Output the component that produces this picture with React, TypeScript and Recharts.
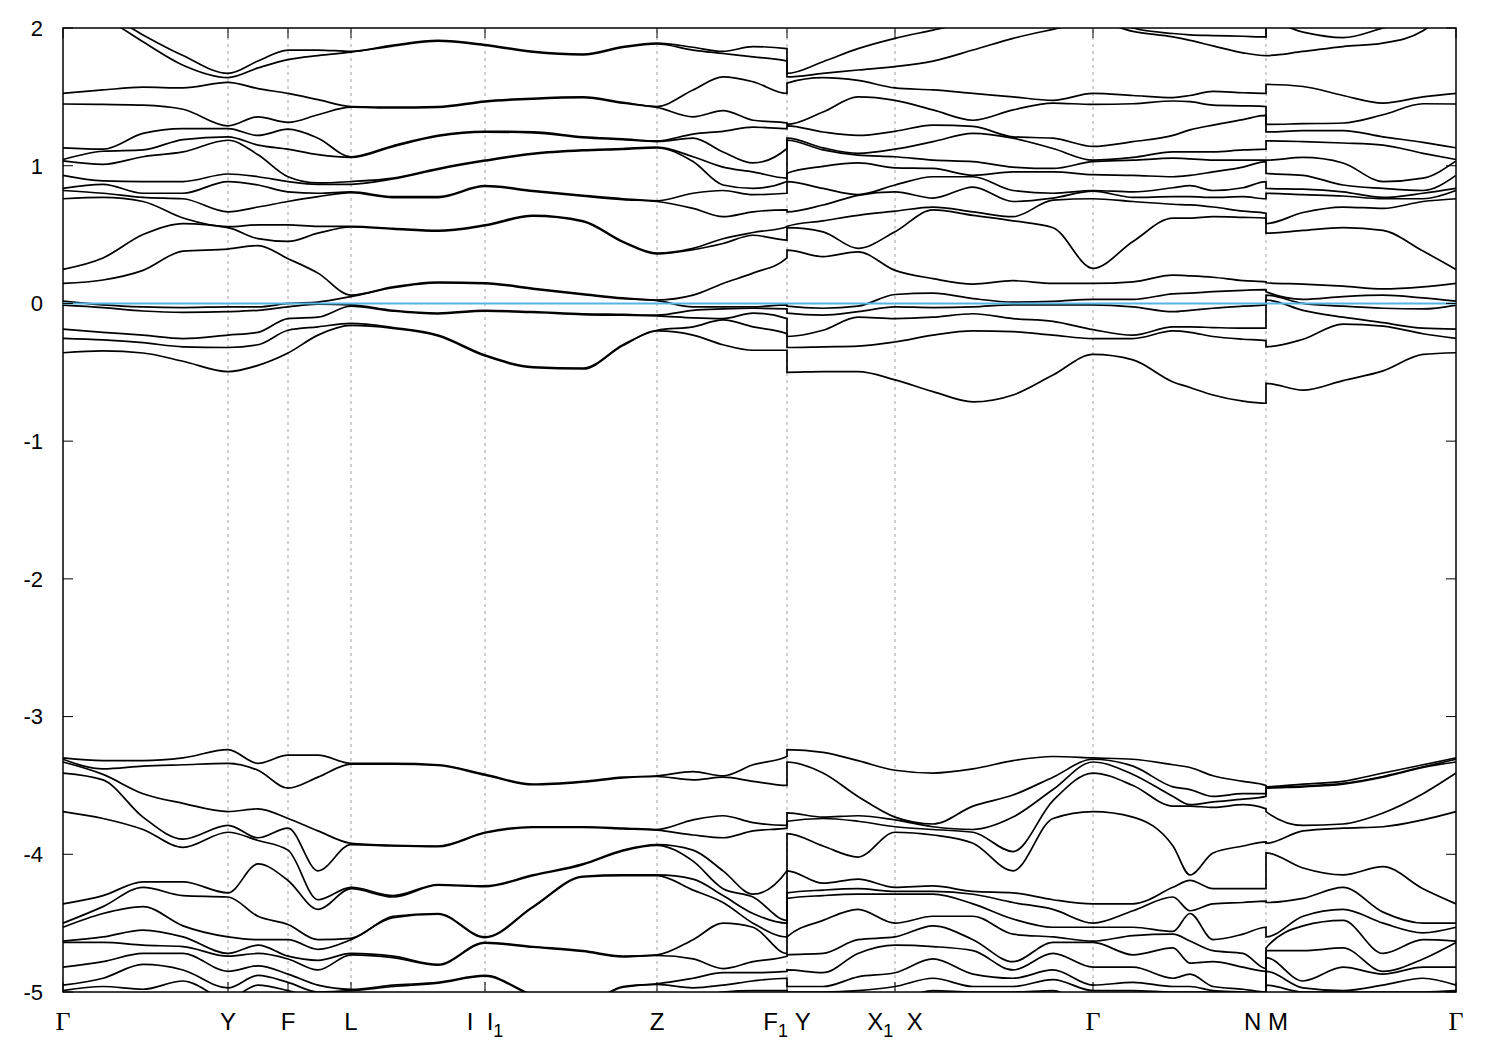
import React from 'react';
import { LineChart, Line, XAxis, YAxis, ReferenceLine, ReferenceArea } from 'recharts';

// k-path distance of every sample point, per path segment
const kGammaF1 = [0, 0.4, 0.8, 1.2, 1.65, 1.95, 2.25, 2.55, 2.88, 3.3, 3.75, 4.22, 4.7, 5.2, 5.6, 5.94, 6.3, 6.6, 6.9, 7.24];
const kYN = [7.24, 7.6, 7.95, 8.32, 8.7, 9.1, 9.5, 9.9, 10.3, 10.7, 11.1, 11.27, 11.5, 11.8, 12.03];
const kMGamma = [12.03, 12.4, 12.8, 13.2, 13.6, 13.93];

// high-symmetry points and their labels ("_" = subscript)
const symK = [0, 1.65, 2.25, 2.88, 4.22, 5.94, 7.24, 8.32, 10.3, 12.03, 13.93];
const symLabels = ['Γ', 'Y', 'F', 'L', 'I  I_1', 'Z', 'F_1 Y', 'X_1  X', 'Γ', 'N M', 'Γ'];
const energyTicks = [-5, -4, -3, -2, -1, 0, 1, 2];

// bands near the Fermi level (eV), one row per k-point
const upperGammaF1 = [
  [2.25, 2.2, 1.525, 1.448, 1.13, 1.045, 1.035, 0.93, 0.835, 0.82, 0.76, 0.247, 0.145, 0.017, -0.012, -0.186, -0.254, -0.358],
  [2.12, 2.08, 1.55, 1.445, 1.12, 1.105, 1.01, 0.89, 0.865, 0.8, 0.77, 0.33, 0.17, -0.01, -0.03, -0.21, -0.265, -0.345],
  [1.95, 1.9, 1.57, 1.44, 1.235, 1.115, 1.065, 0.885, 0.8, 0.77, 0.74, 0.5, 0.24, -0.025, -0.055, -0.23, -0.285, -0.36],
  [1.8, 1.73, 1.565, 1.41, 1.27, 1.19, 1.1, 0.885, 0.8, 0.76, 0.62, 0.58, 0.38, -0.03, -0.065, -0.255, -0.315, -0.42],
  [1.67, 1.64, 1.605, 1.29, 1.27, 1.21, 1.185, 0.94, 0.885, 0.665, 0.557, 0.55, 0.395, -0.025, -0.06, -0.23, -0.32, -0.495],
  [1.76, 1.71, 1.56, 1.355, 1.22, 1.15, 1.08, 0.92, 0.86, 0.7, 0.57, 0.47, 0.42, -0.025, -0.05, -0.21, -0.3, -0.45],
  [1.84, 1.77, 1.525, 1.315, 1.265, 1.12, 0.92, 0.885, 0.81, 0.74, 0.57, 0.45, 0.325, 0.0, -0.025, -0.11, -0.195, -0.36],
  [1.84, 1.8, 1.48, 1.37, 1.2, 1.08, 0.875, 0.865, 0.8, 0.775, 0.56, 0.51, 0.22, 0.01, -0.005, -0.1, -0.17, -0.23],
  [1.83, 1.825, 1.43, 1.425, 1.065, 1.06, 0.885, 0.865, 0.81, 0.805, 0.56, 0.555, 0.06, 0.05, -0.01, -0.02, -0.145, -0.16],
  [1.875, 1.869, 1.425, 1.419, 1.145, 1.139, 0.91, 0.904, 0.775, 0.769, 0.545, 0.539, 0.12, 0.114, -0.05, -0.056, -0.175, -0.181],
  [1.91, 1.904, 1.43, 1.424, 1.22, 1.214, 0.98, 0.974, 0.775, 0.769, 0.53, 0.524, 0.155, 0.149, -0.07, -0.076, -0.23, -0.236],
  [1.88, 1.874, 1.47, 1.464, 1.25, 1.244, 1.04, 1.034, 0.855, 0.849, 0.57, 0.564, 0.15, 0.144, -0.05, -0.056, -0.375, -0.381],
  [1.83, 1.824, 1.49, 1.484, 1.245, 1.239, 1.09, 1.084, 0.82, 0.814, 0.64, 0.634, 0.11, 0.104, -0.06, -0.066, -0.46, -0.466],
  [1.81, 1.804, 1.5, 1.494, 1.21, 1.204, 1.115, 1.109, 0.785, 0.779, 0.6, 0.594, 0.07, 0.064, -0.075, -0.081, -0.47, -0.476],
  [1.865, 1.859, 1.46, 1.454, 1.195, 1.189, 1.125, 1.119, 0.76, 0.754, 0.45, 0.444, 0.04, 0.034, -0.08, -0.086, -0.3, -0.306],
  [1.89, 1.884, 1.43, 1.424, 1.18, 1.175, 1.135, 1.13, 0.745, 0.74, 0.365, 0.36, 0.025, 0.02, -0.085, -0.09, -0.195, -0.2],
  [1.86, 1.84, 1.55, 1.355, 1.23, 1.2, 1.065, 1.03, 0.8, 0.69, 0.4, 0.39, 0.06, -0.025, -0.05, -0.105, -0.17, -0.23],
  [1.83, 1.815, 1.645, 1.4, 1.25, 1.1, 0.99, 0.86, 0.82, 0.63, 0.47, 0.435, 0.145, -0.025, -0.04, -0.11, -0.12, -0.3],
  [1.865, 1.79, 1.61, 1.33, 1.28, 1.02, 0.955, 0.835, 0.79, 0.665, 0.515, 0.495, 0.22, -0.025, -0.035, -0.07, -0.17, -0.34],
  [1.85, 1.76, 1.525, 1.31, 1.27, 1.125, 0.91, 0.885, 0.8, 0.68, 0.557, 0.46, 0.33, -0.01, -0.04, -0.11, -0.22, -0.34],
];
const upperYN = [
  [1.67, 1.645, 1.6, 1.3, 1.29, 1.2, 1.185, 0.945, 0.885, 0.665, 0.56, 0.55, 0.387, -0.02, -0.07, -0.24, -0.32, -0.5],
  [1.755, 1.67, 1.64, 1.39, 1.245, 1.13, 1.115, 0.995, 0.835, 0.715, 0.6, 0.52, 0.34, -0.035, -0.085, -0.195, -0.315, -0.495],
  [1.85, 1.695, 1.62, 1.5, 1.22, 1.09, 1.077, 1.02, 0.79, 0.785, 0.64, 0.4, 0.375, -0.02, -0.06, -0.1, -0.31, -0.495],
  [1.925, 1.72, 1.565, 1.475, 1.25, 1.12, 1.065, 0.985, 0.86, 0.81, 0.67, 0.52, 0.24, 0.065, -0.025, -0.11, -0.28, -0.555],
  [1.985, 1.76, 1.55, 1.405, 1.295, 1.175, 1.04, 0.98, 0.92, 0.765, 0.7, 0.68, 0.18, 0.075, -0.03, -0.1, -0.23, -0.64],
  [2.05, 1.84, 1.525, 1.33, 1.285, 1.235, 1.03, 0.93, 0.92, 0.845, 0.665, 0.64, 0.14, 0.035, -0.025, -0.075, -0.2, -0.715],
  [2.1, 1.925, 1.5, 1.405, 1.21, 1.2, 0.99, 0.955, 0.82, 0.74, 0.63, 0.6, 0.165, 0.01, -0.01, -0.11, -0.205, -0.665],
  [2.15, 1.99, 1.475, 1.455, 1.2, 1.125, 0.98, 0.955, 0.8, 0.765, 0.75, 0.55, 0.145, 0.015, -0.01, -0.13, -0.23, -0.52],
  [2.2, 2.05, 1.525, 1.445, 1.14, 1.04, 1.03, 0.935, 0.82, 0.815, 0.76, 0.255, 0.145, 0.03, -0.01, -0.19, -0.255, -0.37],
  [2.0, 1.975, 1.51, 1.45, 1.175, 1.06, 1.04, 0.93, 0.81, 0.77, 0.74, 0.45, 0.157, 0.03, -0.025, -0.23, -0.255, -0.41],
  [1.96, 1.935, 1.495, 1.47, 1.22, 1.1, 1.055, 0.92, 0.84, 0.775, 0.72, 0.62, 0.205, 0.07, -0.06, -0.17, -0.2, -0.57],
  [1.95, 1.91, 1.51, 1.465, 1.26, 1.1, 1.05, 0.93, 0.855, 0.775, 0.715, 0.62, 0.2, 0.075, -0.05, -0.17, -0.21, -0.61],
  [1.945, 1.87, 1.54, 1.44, 1.295, 1.1, 1.04, 0.955, 0.82, 0.77, 0.7, 0.63, 0.19, 0.085, -0.035, -0.175, -0.24, -0.665],
  [1.94, 1.82, 1.53, 1.435, 1.335, 1.115, 1.04, 0.99, 0.84, 0.775, 0.67, 0.625, 0.165, 0.095, -0.02, -0.18, -0.26, -0.71],
  [1.935, 1.8, 1.525, 1.43, 1.365, 1.12, 1.04, 1.03, 0.885, 0.76, 0.655, 0.62, 0.157, 0.1, -0.01, -0.18, -0.27, -0.725],
];
const upperMGamma = [
  [2.05, 1.8, 1.59, 1.3, 1.245, 1.18, 1.04, 0.945, 0.835, 0.8, 0.58, 0.51, 0.15, 0.085, 0.06, 0.025, -0.315, -0.58],
  [1.97, 1.83, 1.575, 1.305, 1.255, 1.175, 1.06, 0.93, 0.83, 0.79, 0.66, 0.53, 0.14, 0.03, 0.0, -0.05, -0.26, -0.63],
  [1.93, 1.865, 1.51, 1.31, 1.255, 1.165, 1.02, 0.86, 0.81, 0.78, 0.7, 0.55, 0.125, 0.05, -0.02, -0.1, -0.15, -0.56],
  [2.0, 1.89, 1.455, 1.37, 1.21, 1.15, 0.885, 0.835, 0.77, 0.76, 0.69, 0.53, 0.105, 0.06, -0.035, -0.14, -0.165, -0.49],
  [2.08, 1.98, 1.5, 1.45, 1.17, 1.09, 0.91, 0.82, 0.8, 0.76, 0.74, 0.38, 0.12, 0.04, -0.04, -0.18, -0.22, -0.37],
  [2.25, 2.2, 1.525, 1.448, 1.13, 1.045, 1.035, 0.93, 0.835, 0.82, 0.76, 0.247, 0.145, 0.017, -0.012, -0.186, -0.254, -0.358],
];

// deeper bands (eV), one row per k-point
const lowerGammaF1 = [
  [-3.3, -3.31, -3.33, -3.41, -3.69, -4.36, -4.5, -4.53, -4.63, -4.64, -4.82, -4.95, -4.99, -5.1, -5.2, -5.3],
  [-3.32, -3.38, -3.42, -3.46, -3.74, -4.3, -4.38, -4.43, -4.6, -4.64, -4.78, -4.9, -4.96, -5.05, -5.2, -5.3],
  [-3.32, -3.36, -3.56, -3.73, -3.82, -4.2, -4.24, -4.38, -4.55, -4.66, -4.72, -4.8, -4.98, -5.05, -5.2, -5.3],
  [-3.3, -3.35, -3.63, -3.89, -3.95, -4.2, -4.3, -4.52, -4.6, -4.67, -4.72, -4.84, -4.92, -5.05, -5.2, -5.3],
  [-3.24, -3.34, -3.69, -3.79, -3.84, -4.28, -4.31, -4.6, -4.72, -4.74, -4.85, -4.97, -5.05, -5.1, -5.2, -5.3],
  [-3.34, -3.39, -3.67, -3.88, -3.9, -4.07, -4.45, -4.62, -4.66, -4.72, -4.81, -4.88, -4.95, -5.05, -5.2, -5.3],
  [-3.28, -3.52, -3.74, -3.81, -3.97, -4.19, -4.51, -4.62, -4.74, -4.76, -4.87, -4.93, -4.99, -5.05, -5.2, -5.3],
  [-3.28, -3.44, -3.83, -4.12, -4.33, -4.4, -4.62, -4.69, -4.77, -4.84, -4.95, -5.0, -5.05, -5.1, -5.2, -5.3],
  [-3.34, -3.345, -3.92, -3.93, -4.24, -4.25, -4.61, -4.62, -4.72, -4.73, -4.98, -4.99, -5.1, -5.15, -5.2, -5.3],
  [-3.34, -3.345, -3.935, -3.94, -4.3, -4.31, -4.45, -4.46, -4.74, -4.75, -4.95, -4.96, -5.1, -5.15, -5.2, -5.3],
  [-3.35, -3.355, -3.94, -3.945, -4.22, -4.225, -4.43, -4.435, -4.8, -4.805, -4.93, -4.935, -5.1, -5.15, -5.2, -5.3],
  [-3.42, -3.425, -3.84, -3.845, -4.23, -4.235, -4.6, -4.605, -4.64, -4.645, -4.88, -4.885, -5.1, -5.15, -5.2, -5.3],
  [-3.49, -3.495, -3.8, -3.805, -4.15, -4.155, -4.38, -4.385, -4.67, -4.675, -5.02, -5.025, -5.1, -5.15, -5.2, -5.3],
  [-3.47, -3.475, -3.8, -3.805, -4.07, -4.075, -4.16, -4.165, -4.7, -4.705, -5.08, -5.085, -5.12, -5.15, -5.2, -5.3],
  [-3.44, -3.445, -3.81, -3.815, -3.97, -3.975, -4.15, -4.155, -4.74, -4.745, -4.96, -4.965, -5.1, -5.15, -5.2, -5.3],
  [-3.43, -3.435, -3.82, -3.825, -3.93, -3.935, -4.15, -4.155, -4.73, -4.735, -4.94, -4.945, -5.1, -5.15, -5.2, -5.3],
  [-3.4, -3.46, -3.75, -3.86, -3.97, -4.05, -4.18, -4.26, -4.62, -4.76, -4.9, -4.97, -5.05, -5.15, -5.2, -5.3],
  [-3.43, -3.44, -3.72, -3.88, -4.12, -4.25, -4.3, -4.35, -4.5, -4.83, -4.86, -4.95, -5.0, -5.1, -5.2, -5.3],
  [-3.35, -3.47, -3.77, -3.83, -4.29, -4.31, -4.43, -4.5, -4.53, -4.78, -4.86, -4.92, -4.99, -5.05, -5.2, -5.3],
  [-3.29, -3.5, -3.79, -3.81, -4.12, -4.48, -4.5, -4.6, -4.72, -4.74, -4.85, -4.9, -4.99, -5.05, -5.2, -5.3],
];
const lowerYN = [
  [-3.24, -3.33, -3.7, -3.76, -3.85, -4.12, -4.28, -4.32, -4.6, -4.73, -4.84, -4.96, -5.0, -5.05, -5.2, -5.3],
  [-3.26, -3.41, -3.73, -3.74, -3.94, -4.21, -4.26, -4.3, -4.48, -4.72, -4.86, -4.96, -5.0, -5.05, -5.2, -5.3],
  [-3.32, -3.58, -3.72, -3.76, -4.02, -4.18, -4.25, -4.29, -4.4, -4.62, -4.72, -4.89, -4.99, -5.05, -5.2, -5.3],
  [-3.39, -3.73, -3.75, -3.8, -3.84, -4.24, -4.27, -4.29, -4.5, -4.6, -4.66, -4.86, -4.96, -5.05, -5.2, -5.3],
  [-3.41, -3.78, -3.8, -3.82, -3.86, -4.23, -4.27, -4.29, -4.45, -4.52, -4.67, -4.76, -4.9, -4.99, -5.1, -5.3],
  [-3.38, -3.65, -3.82, -3.84, -3.92, -4.27, -4.29, -4.36, -4.45, -4.62, -4.7, -4.87, -4.96, -5.0, -5.1, -5.3],
  [-3.32, -3.57, -3.73, -3.98, -4.12, -4.28, -4.35, -4.47, -4.58, -4.78, -4.84, -4.9, -4.96, -5.0, -5.1, -5.3],
  [-3.29, -3.44, -3.53, -3.61, -3.74, -4.33, -4.4, -4.53, -4.6, -4.64, -4.72, -4.84, -4.91, -4.99, -5.1, -5.3],
  [-3.3, -3.31, -3.33, -3.41, -3.69, -4.36, -4.5, -4.53, -4.63, -4.64, -4.82, -4.95, -4.99, -5.1, -5.2, -5.3],
  [-3.31, -3.36, -3.42, -3.5, -3.73, -4.36, -4.41, -4.53, -4.59, -4.73, -4.82, -4.93, -4.99, -5.05, -5.1, -5.3],
  [-3.35, -3.51, -3.58, -3.65, -3.94, -4.24, -4.31, -4.56, -4.58, -4.68, -4.9, -4.96, -5.0, -5.05, -5.1, -5.3],
  [-3.37, -3.53, -3.64, -3.65, -4.15, -4.19, -4.41, -4.43, -4.63, -4.79, -4.87, -4.96, -5.0, -5.05, -5.1, -5.3],
  [-3.43, -3.58, -3.62, -3.66, -3.99, -4.25, -4.36, -4.62, -4.7, -4.78, -4.96, -4.99, -5.0, -5.05, -5.1, -5.3],
  [-3.47, -3.56, -3.6, -3.64, -3.94, -4.25, -4.35, -4.58, -4.72, -4.82, -4.98, -5.0, -5.02, -5.05, -5.1, -5.3],
  [-3.5, -3.56, -3.58, -3.67, -3.91, -4.25, -4.34, -4.53, -4.83, -4.85, -5.0, -5.01, -5.03, -5.05, -5.1, -5.3],
];
const lowerMGamma = [
  [-3.51, -3.515, -3.52, -3.69, -3.92, -3.99, -4.35, -4.6, -4.68, -4.7, -4.75, -4.85, -4.95, -5.05, -5.1, -5.3],
  [-3.49, -3.505, -3.51, -3.79, -3.83, -4.1, -4.32, -4.45, -4.52, -4.7, -4.92, -4.97, -5.0, -5.05, -5.1, -5.3],
  [-3.47, -3.485, -3.49, -3.78, -3.81, -4.15, -4.24, -4.4, -4.48, -4.68, -4.82, -4.99, -5.0, -5.05, -5.1, -5.3],
  [-3.41, -3.435, -3.44, -3.7, -3.8, -4.09, -4.42, -4.5, -4.72, -4.85, -4.87, -4.95, -5.0, -5.05, -5.1, -5.3],
  [-3.35, -3.365, -3.37, -3.56, -3.75, -4.25, -4.5, -4.57, -4.62, -4.76, -4.82, -4.9, -5.0, -5.05, -5.1, -5.3],
  [-3.3, -3.31, -3.33, -3.41, -3.69, -4.36, -4.5, -4.53, -4.63, -4.64, -4.82, -4.95, -4.99, -5.1, -5.2, -5.3],
];

const kAll = [...kGammaF1, ...kYN, ...kMGamma];
const upperAll = [...upperGammaF1, ...upperYN, ...upperMGamma];
const lowerAll = [...lowerGammaF1, ...lowerYN, ...lowerMGamma];

const rows = kAll.map((k, i) => {
  const row: Record<string, number> = { k };
  upperAll[i].forEach((e, j) => (row[`u${j}`] = e));
  lowerAll[i].forEach((e, j) => (row[`l${j}`] = e));
  return row;
});
const bandKeys = [
  ...upperAll[0].map((_, j) => `u${j}`),
  ...lowerAll[0].map((_, j) => `l${j}`),
];

const W = 1490;
const H = 1040;
const PLOT_LEFT = 55;
const PLOT_TOP = 20;
const PLOT_RIGHT = 1448;
const PLOT_BOTTOM = 984;
const FONT = '"Liberation Sans", Arial, Helvetica, sans-serif';

function splitLabel(label: string) {
  const parts: { t: string; sub: boolean }[] = [];
  let i = 0;
  while (i < label.length) {
    if (label[i] === '_') {
      parts.push({ t: label[i + 1], sub: true });
      i += 2;
    } else {
      let j = i;
      while (j < label.length && label[j] !== '_') j++;
      parts.push({ t: label.slice(i, j).replace(/ /g, '\u00a0'), sub: false });
      i = j;
    }
  }
  return parts;
}

function KTick(props: any) {
  const { x, payload } = props;
  const idx = symK.indexOf(payload.value);
  const label = idx >= 0 ? symLabels[idx] : '';
  const parts = splitLabel(label);
  const greek = label === 'Γ';
  let prevSub = false;
  return (
    <g>
      <line x1={x} x2={x} y1={PLOT_BOTTOM} y2={PLOT_BOTTOM - 10} stroke="#000" strokeWidth={1} />
      <line x1={x} x2={x} y1={PLOT_TOP} y2={PLOT_TOP + 10} stroke="#000" strokeWidth={1} />
      <text
        x={x}
        y={PLOT_BOTTOM + 38}
        textAnchor="middle"
        fontSize={greek ? 26 : 24}
        fontFamily={greek ? '"Liberation Serif", "Times New Roman", serif' : FONT}
        fill="#000"
      >
        {parts.map((p, i) => {
          const dy = p.sub ? 7 : prevSub ? -7 : 0;
          prevSub = p.sub;
          return (
            <tspan key={i} dy={dy} fontSize={p.sub ? 18 : undefined}>
              {p.t}
            </tspan>
          );
        })}
      </text>
    </g>
  );
}

function ETick(props: any) {
  const { y, payload } = props;
  return (
    <g>
      <line x1={PLOT_LEFT} x2={PLOT_LEFT + 10} y1={y} y2={y} stroke="#000" strokeWidth={1} />
      <line x1={PLOT_RIGHT} x2={PLOT_RIGHT - 10} y1={y} y2={y} stroke="#000" strokeWidth={1} />
      <text x={PLOT_LEFT - 20} y={y} dy="0.36em" textAnchor="end" fontSize={22} fontFamily={FONT} fill="#000">
        {payload.value}
      </text>
    </g>
  );
}

export default function App() {
  return (
    <div style={{ width: W, height: H, background: '#fff' }}>
      <LineChart
        width={W}
        height={H}
        data={rows}
        margin={{ top: PLOT_TOP, right: W - PLOT_RIGHT, bottom: H - PLOT_BOTTOM - 40, left: 0 }}
      >
        <XAxis
          type="number"
          dataKey="k"
          domain={[0, 13.93]}
          ticks={symK}
          interval={0}
          tick={(p: any) => <KTick {...p} />}
          tickLine={false}
          axisLine={false}
          height={40}
        />
        <YAxis
          type="number"
          domain={[-5, 2]}
          ticks={energyTicks}
          interval={0}
          allowDataOverflow
          tick={(p: any) => <ETick {...p} />}
          tickLine={false}
          axisLine={false}
          width={PLOT_LEFT}
        />
        {symK.slice(1, -1).map((k) => (
          <ReferenceLine key={`v${k}`} x={k} stroke="#a0a0a0" strokeWidth={1} strokeDasharray="3 4" />
        ))}
        {bandKeys.map((key) => (
          <Line
            key={key}
            dataKey={key}
            type="monotone"
            stroke="#000"
            strokeWidth={1.7}
            dot={false}
            activeDot={false}
            isAnimationActive={false}
          />
        ))}
        <ReferenceLine y={0} stroke="#56b4e9" strokeWidth={2} />
        <ReferenceArea x1={0} x2={13.93} y1={-5} y2={2} fill="none" stroke="#000" strokeWidth={1.5} ifOverflow="visible" />
      </LineChart>
    </div>
  );
}
